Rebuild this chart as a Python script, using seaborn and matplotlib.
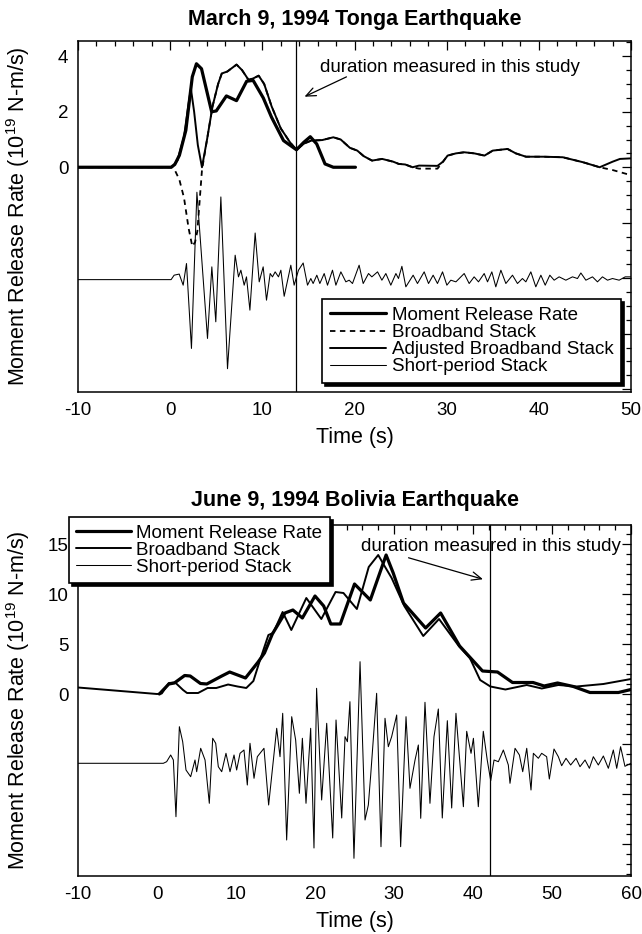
import numpy as np
import pandas as pd
import matplotlib
matplotlib.use("Agg")
import matplotlib.pyplot as plt
import seaborn as sns
from matplotlib.ticker import MultipleLocator, FuncFormatter

sns.set_style("white")
plt.rcParams["font.family"] = ["Liberation Sans", "DejaVu Sans"]
plt.rcParams["mathtext.fontset"] = "custom"
plt.rcParams["mathtext.rm"] = "Liberation Sans"
plt.rcParams["mathtext.it"] = "Liberation Sans:italic"
for k in ["text.color", "axes.labelcolor", "xtick.color", "ytick.color", "axes.edgecolor"]:
    plt.rcParams[k] = "black"

# ---------------- Tonga (March 9, 1994) ----------------
tonga_title = "March 9, 1994 Tonga Earthquake"
tonga_duration = 13.6

tonga_mrr_t = [-10, 0.1, 0.5, 1.0, 1.7, 2.4, 2.85, 3.4, 4.5, 5.0, 6.1, 7.2, 8.3, 9.0,
               10.1, 11.0, 12.3, 13.7, 14.5, 15.2, 15.9, 16.8, 17.7, 20.1]
tonga_mrr_v = [0, 0, 0.1, 0.43, 1.33, 3.26, 3.73, 3.55, 2.0, 2.03, 2.57, 2.4, 3.1, 3.13,
               2.5, 1.8, 0.96, 0.63, 0.9, 1.1, 0.84, 0.12, 0.0, 0.0]

tonga_adj_t = [-10, 0.2, 0.8, 1.5, 2.0, 2.25, 2.6, 3.0, 3.45, 4.0, 4.6, 5.2, 5.6, 6.2, 7.2,
               7.8, 8.5, 9.0, 9.6, 10.2, 11.0, 12.0, 13.0, 13.7, 14.5, 15.3, 16.5, 17.7,
               18.5, 19.5, 20.3, 21.0, 21.9, 23.0, 24.2, 24.8, 25.5, 26.3, 27.0, 29.0,
               29.6, 30.1, 31.0, 31.9, 33.0, 34.1, 35.0, 36.6, 37.5, 38.6, 40.5, 42.6,
               44.8, 46.6, 48.0, 48.8, 50.0]
tonga_adj_v = [0, 0, 0.25, 1.1, 2.3, 2.83, 2.0, 0.8, 0.0, 1.0, 2.2, 3.0, 3.38, 3.45, 3.7,
               3.5, 3.15, 3.2, 3.3, 3.0, 2.2, 1.4, 0.9, 0.63, 0.85, 0.96, 0.98, 1.08,
               1.0, 0.7, 0.6, 0.4, 0.24, 0.3, 0.2, 0.12, 0.1, 0.0, 0.06, 0.05,
               0.2, 0.42, 0.5, 0.54, 0.5, 0.42, 0.6, 0.66, 0.5, 0.38, 0.38, 0.36,
               0.18, 0.0, 0.2, 0.3, 0.32]

tonga_bb_t = [-10, 0.2, 0.5, 1.0, 1.5, 2.0, 2.4, 2.7, 2.95, 3.2, 3.45, 4.0, 4.6, 5.2, 5.6,
              6.2, 7.2, 7.8, 8.5, 9.0, 9.6, 10.2, 11.0, 12.0, 13.0, 13.7, 14.5, 15.3,
              16.5, 17.7, 18.5, 19.5, 20.3, 21.0, 21.9, 23.0, 24.2, 24.8, 25.5, 26.3,
              27.0, 29.0, 29.6, 30.1, 31.0, 31.9, 33.0, 34.1, 35.0, 36.6, 37.5, 38.6,
              40.5, 42.6, 44.8, 46.6, 48.0, 49.5, 50.0]
tonga_bb_v = [0, 0, -0.1, -0.45, -1.1, -2.2, -2.85, -2.7, -2.3, -1.2, -0.1, 1.0, 2.2, 3.0, 3.38,
              3.45, 3.7, 3.5, 3.15, 3.2, 3.3, 3.0, 2.2, 1.4, 0.9, 0.63, 0.85, 0.96,
              0.98, 1.08, 1.0, 0.7, 0.6, 0.4, 0.24, 0.3, 0.2, 0.12, 0.1, 0.0,
              -0.05, -0.05, 0.2, 0.42, 0.5, 0.54, 0.5, 0.42, 0.6, 0.66, 0.5, 0.38,
              0.38, 0.36, 0.18, 0.0, -0.1, -0.24, -0.27]

tonga_sp_t = [-10, 0.1, 0.43, 0.98, 1.41, 1.77, 2.31, 2.9, 4.05, 4.52,
              4.95, 5.5, 6.22, 7.05, 7.41, 7.67, 8.03, 8.28, 8.65, 9.22,
              9.66, 10.09, 10.45, 10.85, 11.1, 11.39, 11.75, 12.01, 12.37, 13.09,
              13.45, 13.92, 14.43, 14.9, 15.26, 15.51, 15.91, 16.24, 16.71, 17.07,
              17.61, 17.98, 18.52, 19.06, 19.42, 19.78, 20.5, 20.94, 21.52, 21.88,
              22.5, 22.97, 23.4, 23.94, 24.49, 24.77, 25.14, 25.57, 26.36, 26.83,
              27.56, 28.03, 28.53, 29.0, 29.55, 30.02, 30.45, 31.0, 31.9, 32.44,
              32.98, 33.45, 34.07, 34.43, 34.9, 35.33, 35.88, 36.42, 37.14, 37.68,
              38.22, 38.59, 39.13, 39.67, 40.22, 40.69, 41.19, 41.66, 42.2, 42.93,
              43.65, 44.19, 44.56, 45.1, 45.82, 46.36, 46.9, 47.45, 47.99, 48.71,
              49.37, 50.0]
tonga_sp_v = [-4.05, -4.05, -3.89, -3.85, -4.25, -3.47, -6.53, -0.9, -6.17, -3.59,
              -5.57, -1.07, -7.26, -3.17, -3.95, -3.71, -4.25, -3.95, -5.15, -2.37,
              -4.13, -3.59, -4.79, -3.83, -3.95, -3.77, -3.95, -3.71, -4.65, -3.53,
              -4.25, -3.71, -3.45, -4.25, -4.01, -4.19, -3.89, -4.19, -3.83, -4.25,
              -3.71, -4.25, -3.77, -4.13, -4.07, -4.19, -3.53, -4.19, -3.83, -3.95,
              -3.77, -4.07, -3.83, -4.25, -3.83, -4.01, -3.57, -4.31, -3.89, -4.19,
              -3.77, -4.19, -3.89, -4.19, -3.77, -4.25, -4.07, -4.13, -3.83, -4.19,
              -3.95, -4.13, -3.83, -4.13, -3.77, -4.31, -3.71, -4.19, -3.89, -4.19,
              -4.01, -4.13, -3.77, -4.31, -3.89, -4.25, -3.89, -4.07, -3.95, -4.07,
              -3.95, -4.01, -3.81, -4.07, -3.95, -4.13, -3.95, -4.07, -4.01, -4.07,
              -3.95, -3.95]

# ---------------- Bolivia (June 9, 1994) ----------------
bolivia_title = "June 9, 1994 Bolivia Earthquake"
bolivia_duration = 42.2

bol_mrr_t = [0.3, 1.5, 2.2, 3.5, 4.2, 5.5, 6.3, 8.2, 9.2, 11.2, 12.8, 13.6, 14.6, 16.2,
             17.2, 18.4, 20.0, 21.1, 22.0, 23.2, 25.0, 27.0, 29.0, 29.9, 31.2, 34.0,
             35.9, 38.3, 41.2, 43.1, 45.0, 47.6, 49.0, 50.7, 52.7, 54.8, 58.4, 60.0]
bol_mrr_v = [0.0, 1.0, 1.1, 1.85, 1.8, 1.05, 1.0, 1.8, 2.2, 1.6, 3.2, 4.1, 6.0, 8.1,
             8.4, 7.6, 9.8, 8.8, 7.0, 7.0, 11.0, 9.4, 13.9, 12.1, 9.1, 6.6,
             8.1, 4.8, 2.3, 2.2, 1.15, 1.15, 0.8, 1.1, 0.75, 0.15, 0.15, 0.45]

bol_bb_t = [-10, 0.0, 0.6, 1.5, 2.3, 3.3, 3.8, 5.2, 6.4, 7.5, 9.0, 10.2, 11.3, 12.2,
            13.0, 14.1, 14.7, 15.9, 17.0, 18.9, 20.8, 22.6, 23.6, 25.3, 26.8, 28.0,
            28.8, 29.7, 31.3, 33.7, 35.7, 38.2, 39.6, 40.9, 42.2, 44.1, 46.8, 48.7,
            50.8, 53.1, 56.5, 60.0]
bol_bb_v = [0.65, 0.0, 0.05, 1.1, 1.15, 0.4, 0.1, 0.1, 0.6, 0.6, 0.95, 0.75, 0.6, 1.3,
            3.3, 5.9, 6.1, 8.2, 6.4, 9.6, 7.5, 10.2, 10.1, 8.5, 12.7, 13.9,
            12.8, 11.6, 8.8, 5.8, 7.5, 4.8, 3.6, 1.4, 0.75, 0.45, 0.9, 0.55,
            0.9, 0.75, 1.0, 1.5]

bol_sp_t = [-10, 0.8, 1.22, 1.73, 2.07, 2.4, 2.83, 3.25, 3.67, 4.26,
            4.81, 5.02, 5.53, 6.08, 6.62, 7.05, 7.43, 7.76, 8.19, 8.73,
            9.24, 9.75, 10.08, 10.51, 11.01, 11.43, 11.77, 12.28, 12.7, 13.04,
            13.54, 14.13, 14.73, 15.15, 15.57, 15.91, 16.41, 17.05, 17.55, 18.02,
            18.4, 18.86, 19.45, 19.87, 20.2, 20.84, 21.48, 22.24, 22.66, 23.38,
            23.8, 24.1, 24.42, 24.93, 25.7, 26.33, 26.75, 27.05, 27.8, 28.35,
            28.86, 29.28, 29.7, 30.34, 30.84, 31.52, 32.02, 32.66, 33.08, 33.38,
            33.92, 34.55, 35.06, 35.61, 36.11, 36.75, 37.3, 37.84, 38.78, 39.2,
            39.75, 40.05, 40.67, 41.3, 41.8, 42.24, 42.66, 43.21, 43.84, 44.47,
            44.68, 45.32, 45.87, 46.29, 46.8, 47.34, 47.64, 48.27, 48.69, 49.32,
            49.66, 50.25, 50.8, 51.22, 51.77, 52.36, 53.04, 53.54, 54.18, 54.73,
            55.23, 55.86, 56.5, 57.13, 57.76, 58.19, 58.68, 59.23, 60.0]
bol_sp_v = [-6.93, -6.93, -6.77, -6.1, -6.6, -12.27, -3.27, -4.77, -7.6, -8.27,
            -6.6, -7.77, -5.43, -6.6, -10.93, -4.43, -4.93, -7.27, -7.77, -5.93,
            -7.77, -6.1, -7.6, -5.93, -5.6, -9.1, -4.93, -8.43, -6.27, -5.93,
            -5.43, -11.1, -6.6, -3.43, -6.27, -1.93, -14.6, -2.27, -4.6, -9.93,
            -4.43, -10.93, -3.43, -15.4, 0.57, -10.6, -2.93, -14.4, -2.6, -12.4,
            -4.27, -4.77, -0.77, -16.43, 3.23, -12.6, -11.1, -8.1, 0.07, -15.27,
            -2.43, -5.27, -4.27, -2.1, -15.27, -2.27, -9.43, -6.6, -5.1, -12.43,
            -0.83, -10.93, -4.27, -1.5, -12.4, -2.67, -11.4, -1.93, -11.27, -3.73,
            -5.93, -4.43, -11.27, -3.73, -6.6, -8.67, -6.6, -6.77, -5.6, -7.1,
            -8.93, -5.43, -6.1, -7.77, -5.43, -9.6, -5.93, -6.43, -5.93, -6.27,
            -8.5, -5.5, -6.27, -7.17, -6.43, -7.1, -6.43, -7.27, -6.6, -7.43,
            -6.27, -7.1, -6.2, -7.43, -5.6, -7.43, -5.27, -7.23, -6.93]

ylabel = r"Moment Release Rate (10$^{19}$ N-m/s)"
xlabel = "Time (s)"
duration_text = "duration measured in this study"

LW_THICK, LW_MED, LW_THIN = 2.3, 1.4, 0.75

fig = plt.figure(figsize=(6.42, 9.34), dpi=100)
ax1 = fig.add_axes([0.1215, 0.5803, 0.8614, 0.3758])
ax2 = fig.add_axes([0.1215, 0.0621, 0.8614, 0.3758])


def line(ax, t, v, lw, ls="-"):
    df = pd.DataFrame({"t": t, "v": v})
    sns.lineplot(data=df, x="t", y="v", ax=ax, color="black", linewidth=lw,
                 linestyle=ls, sort=False, estimator=None)
    return ax.lines[-1]


def style_axes(ax, xlim, ylim, ymaj, ymin, ylabels):
    ax.set_xlim(*xlim)
    ax.set_ylim(*ylim)
    ax.xaxis.set_major_locator(MultipleLocator(10))
    ax.xaxis.set_minor_locator(MultipleLocator(2))
    ax.yaxis.set_major_locator(MultipleLocator(ymaj))
    ax.yaxis.set_minor_locator(MultipleLocator(ymin))
    ax.xaxis.set_major_formatter(FuncFormatter(lambda x, p: f"{x:.0f}"))
    ax.yaxis.set_major_formatter(FuncFormatter(
        lambda y, p: (f"{y:.0f}" if round(y) in ylabels else "")))
    ax.tick_params(which="both", direction="in", top=True, right=True,
                   width=0.9, colors="black", labelsize=13.5)
    ax.tick_params(which="major", length=6.5, pad=7)
    ax.tick_params(which="minor", length=3.5)
    for s in ax.spines.values():
        s.set_linewidth(1.1)
        s.set_color("black")
    ax.set_xlabel(xlabel, fontsize=15.5)
    ax.set_ylabel(ylabel, fontsize=15.5)
    ax.xaxis.set_label_coords(0.5, -0.1)
    ax.yaxis.set_label_coords(-0.083, 0.5)


# ---- top panel
h_bb = line(ax1, tonga_bb_t, tonga_bb_v, 1.3, (0, (3, 2.5)))
h_adj = line(ax1, tonga_adj_t, tonga_adj_v, LW_MED)
h_sp = line(ax1, tonga_sp_t, tonga_sp_v, LW_THIN)
h_mrr = line(ax1, tonga_mrr_t, tonga_mrr_v, LW_THICK)
ax1.axvline(tonga_duration, color="black", lw=0.9)
style_axes(ax1, (-10, 50), (-8.1, 4.55), 2, 0.5, {0, 2, 4})
ax1.text(0.5, 1.06, tonga_title, transform=ax1.transAxes, ha="center",
         va="center", fontsize=15.5, fontweight="bold")
ax1.text(16.3, 3.61, duration_text, ha="left", va="center", fontsize=13.5)
ax1.annotate("", xy=(14.3, 2.5), xytext=(19.4, 3.3),
             arrowprops=dict(arrowstyle="->,head_length=0.7,head_width=0.3",
                             color="black", lw=0.9))
leg1 = ax1.legend([h_mrr, h_bb, h_adj, h_sp],
                  ["Moment Release Rate", "Broadband Stack",
                   "Adjusted Broadband Stack", "Short-period Stack"],
                  loc="lower right", bbox_to_anchor=(0.982, 0.026),
                  borderaxespad=0, fontsize=13.5, labelspacing=0.0,
                  handlelength=3.0, handletextpad=0.3, fancybox=False,
                  framealpha=1, edgecolor="black",
                  shadow={"color": "black", "alpha": 1})
leg1.get_frame().set_linewidth(1.2)

# ---- bottom panel
b_bb = line(ax2, bol_bb_t, bol_bb_v, LW_MED)
b_sp = line(ax2, bol_sp_t, bol_sp_v, LW_THIN)
b_mrr = line(ax2, bol_mrr_t, bol_mrr_v, LW_THICK)
ax2.axvline(bolivia_duration, color="black", lw=0.9)
style_axes(ax2, (-10, 60), (-18.2, 16.9), 5, 1, {0, 5, 10, 15})
ax2.text(0.5, 1.071, bolivia_title, transform=ax2.transAxes, ha="center",
         va="center", fontsize=15.5, fontweight="bold")
ax2.text(25.8, 14.8, duration_text, ha="left", va="center", fontsize=13.5)
ax2.annotate("", xy=(41.6, 11.4), xytext=(31.5, 13.7),
             arrowprops=dict(arrowstyle="->,head_length=0.7,head_width=0.3",
                             color="black", lw=0.9))
leg2 = ax2.legend([b_mrr, b_bb, b_sp],
                  ["Moment Release Rate", "Broadband Stack", "Short-period Stack"],
                  loc="upper left", bbox_to_anchor=(-0.0163, 1.0228),
                  borderaxespad=0, fontsize=13.5, labelspacing=0.0,
                  handlelength=2.9, handletextpad=0.3, fancybox=False,
                  framealpha=1, edgecolor="black",
                  shadow={"color": "black", "alpha": 1})
leg2.get_frame().set_linewidth(1.2)
leg2.set_zorder(10)

fig.savefig("out.png", dpi=100)
